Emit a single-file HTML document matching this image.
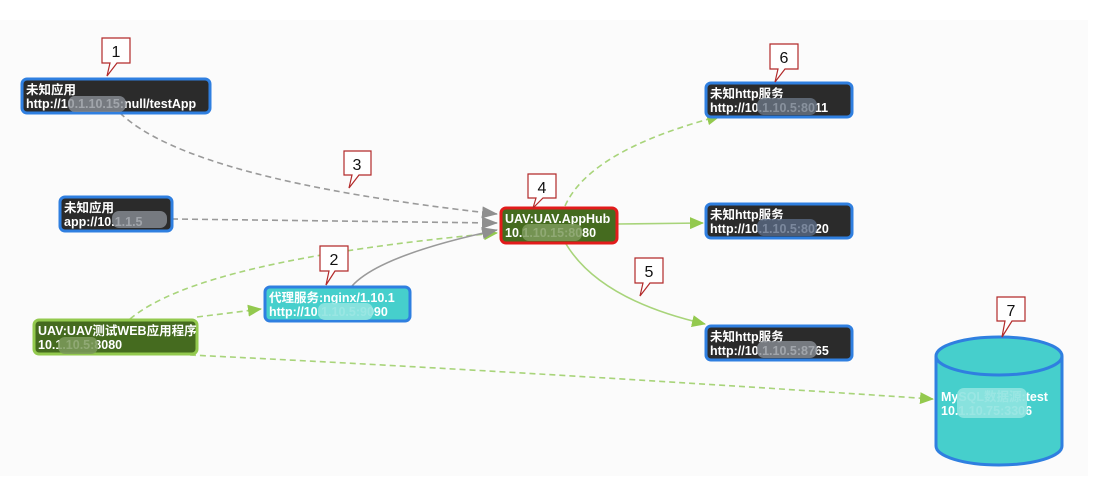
<!DOCTYPE html>
<html><head><meta charset="utf-8"><style>
html,body{margin:0;padding:0;background:#fff;}
svg{display:block;}
text{font-family:"Liberation Sans","Noto Sans CJK SC",sans-serif;font-size:12.5px;font-weight:bold;}
</style></head><body>
<svg width="1111" height="484" viewBox="0 0 1111 484" xmlns="http://www.w3.org/2000/svg">
<defs>
<marker id="ag" markerWidth="16" markerHeight="12" refX="15" refY="6" orient="auto" markerUnits="userSpaceOnUse"><path d="M0,0 L16,6 L0,12 Z" fill="#8f8f8f"/></marker>
<marker id="an" markerWidth="14" markerHeight="12" refX="13" refY="6" orient="auto" markerUnits="userSpaceOnUse"><path d="M0,0 L14,6 L0,12 Z" fill="#93c94e"/></marker>
</defs>
<rect x="0" y="0" width="1111" height="484" fill="#fff"/>
<rect x="0" y="20" width="1088" height="456" fill="#fbfbfb"/>

<g fill="none" stroke-width="1.6">
<path d="M120,113 Q190,180 497,214" stroke="#9a9a9a" stroke-dasharray="6,4" marker-end="url(#ag)"/>
<path d="M172,219 L497,223" stroke="#9a9a9a" stroke-dasharray="6,4" marker-end="url(#ag)"/>
<path d="M130,319 Q200,260 497,233" stroke="#a8d47a" stroke-dasharray="6,4" marker-end="url(#an)"/>
<path d="M197,317 L261,309" stroke="#a8d47a" stroke-dasharray="6,4" marker-end="url(#an)"/>
<path d="M352,286 Q380,255 497,230" stroke="#9a9a9a" marker-end="url(#ag)"/>
<path d="M565,206 Q590,150 720,116" stroke="#a8d47a" stroke-dasharray="6,4" marker-end="url(#an)"/>
<path d="M617,224 L703,223" stroke="#a8d47a" marker-end="url(#an)"/>
<path d="M566,244 Q600,300 705,324" stroke="#a8d47a" marker-end="url(#an)"/>
<path d="M190,355 Q500,370 933,399" stroke="#a8d47a" stroke-dasharray="6,4" marker-end="url(#an)"/>
</g>

<g stroke="#2f7fe0" stroke-width="3" fill="#2b2b2b">
<rect x="22" y="79" width="188" height="34" rx="5"/>
<rect x="60" y="197" width="112" height="34" rx="5"/>
<rect x="706" y="83" width="146" height="34" rx="5"/>
<rect x="706" y="204" width="146" height="34" rx="5"/>
<rect x="706" y="326" width="146" height="34" rx="5"/>
</g>
<rect x="265" y="287" width="145" height="34" rx="5" fill="#46cfcc" stroke="#2f7fe0" stroke-width="3"/>
<rect x="34" y="320" width="163" height="34" rx="5" fill="#456b1f" stroke="#93c94e" stroke-width="3"/>
<rect x="501" y="208" width="116" height="35" rx="5" fill="#456b1f" stroke="#e21b1b" stroke-width="3"/>

<path d="M936,356 L936,446 A63,19 0 0 0 1062,446 L1062,356" fill="#46cfcc" stroke="#2f7fe0" stroke-width="3"/>
<ellipse cx="999" cy="356" rx="63" ry="19" fill="#46cfcc" stroke="#2f7fe0" stroke-width="3"/>

<g fill="#fff">
<text x="26" y="94">未知应用</text><text x="26" y="108">http://10.1.10.15:null/testApp</text>
<text x="64" y="212">未知应用</text><text x="64" y="226">app://10.1.1.5</text>
<text x="269" y="302">代理服务:nginx/1.10.1</text><text x="269" y="316">http://10.1.10.5:9090</text>
<text x="38" y="335">UAV:UAV测试WEB应用程序</text><text x="38" y="349">10.1.10.5:8080</text>
<text x="505" y="223">UAV:UAV.AppHub</text><text x="505" y="237">10.1.10.15:8080</text>
<text x="710" y="98">未知http服务</text><text x="710" y="112">http://10.1.10.5:8011</text>
<text x="710" y="219">未知http服务</text><text x="710" y="233">http://10.1.10.5:8020</text>
<text x="710" y="341">未知http服务</text><text x="710" y="355">http://10.1.10.5:8765</text>
<text x="941" y="401">MySQL数据源:test</text><text x="941" y="415">10.1.10.75:3306</text>
</g>
<g fill="#8a8f96" opacity="0.8">
<rect x="68" y="96" width="58" height="16" rx="7"/>
<rect x="112" y="211" width="55" height="17" rx="7"/>
<rect x="757" y="98" width="60" height="17" rx="7" fill="#6a7585"/>
<rect x="757" y="219" width="60" height="17" rx="7" fill="#5a6a85"/>
<rect x="757" y="341" width="60" height="17" rx="7"/>
</g>
<g fill="#7c9a5c" opacity="0.85">
<rect x="58" y="337" width="40" height="17" rx="7"/>
<rect x="522" y="224" width="60" height="17" rx="7"/>
</g>
<g fill="#8fe3e0" opacity="0.9">
<rect x="318" y="303" width="55" height="17" rx="7"/>
<rect x="957" y="388" width="70" height="30" rx="7"/>
</g>

<g fill="#fff" stroke="#b22a2a" stroke-width="1.2">
<path d="M102,38 H130 V63 H117 L107,76 L110,63 H102 Z"/>
<path d="M320,246 H348 V271 H335 L326,285 L329,271 H320 Z"/>
<path d="M344,151 H371 V175 H359 L349,188 L352,175 H344 Z"/>
<path d="M528,174 H556 V198 H543 L533,208 L536,198 H528 Z"/>
<path d="M635,258 H663 V283 H650 L640,296 L643,283 H635 Z"/>
<path d="M770,44 H798 V69 H785 L775,82 L778,69 H770 Z"/>
<path d="M997,297 H1025 V321 H1012 L1002,337 L1005,321 H997 Z"/>
</g>
<g fill="#111" text-anchor="middle">
<text x="116" y="57" style="font-size:16px;font-weight:normal">1</text>
<text x="334" y="265" style="font-size:16px;font-weight:normal">2</text>
<text x="357" y="170" style="font-size:16px;font-weight:normal">3</text>
<text x="542" y="193" style="font-size:16px;font-weight:normal">4</text>
<text x="649" y="277" style="font-size:16px;font-weight:normal">5</text>
<text x="784" y="63" style="font-size:16px;font-weight:normal">6</text>
<text x="1011" y="316" style="font-size:16px;font-weight:normal">7</text>
</g>
</svg>
</body></html>
